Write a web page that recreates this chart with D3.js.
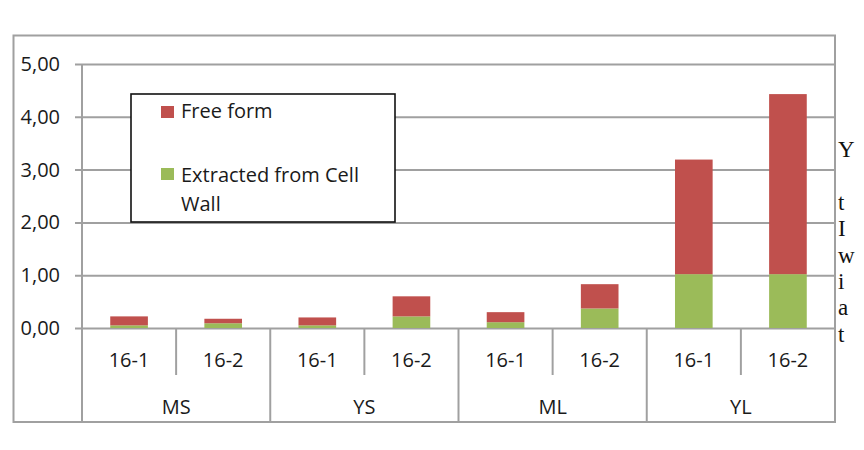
<!DOCTYPE html>
<html>
<head>
<meta charset="utf-8">
<script src="https://cdn.jsdelivr.net/npm/d3@7"></script>
<style>
  html, body { margin: 0; padding: 0; background: #fff; overflow: hidden; }
  svg { display: block; }
  .lbl { font-family: "Open Sans", Lato, sans-serif; fill: #1a1a1a; }
  .side { font-family: "Liberation Serif", "DejaVu Serif", serif; fill: #111; }
</style>
</head>
<body>
<svg id="chart" width="864" height="450"></svg>
<script>
  // data
  const groups = ['MS', 'YS', 'ML', 'YL'];
  const samples = ['16-1', '16-2'];
  const cellWall = [0.05, 0.09, 0.05, 0.22, 0.11, 0.37, 1.02, 1.02];
  const freeForm = [0.17, 0.085, 0.15, 0.38, 0.19, 0.46, 2.17, 3.41];
  const yTicks = [0, 1, 2, 3, 4, 5];
  const seriesNames = ['Free form', 'Extracted from Cell Wall'];
  const seriesColors = ['#c0504d', '#9bbb59'];
  // clipped body text at the right edge of the page
  const sideText = ['Y', 't', 'I', 'w', 'i', 'a', 't'];
  const sideRows = [0, 2, 3, 4, 5, 6, 7];

  const svg = d3.select('#chart');
  const plot = { left: 82, right: 835, top: 64, bottom: 328 };
  const frame = { left: 13.5, top: 35.5, right: 835, bottom: 422 };
  const grey = '#a0a0a0';
  const fs = 20;

  const cats = [];
  groups.forEach(g => samples.forEach(s => cats.push(g + '|' + s)));

  const x = d3.scaleBand().domain(cats).range([plot.left, plot.right])
    .paddingInner(0.6).paddingOuter(0.3);
  const xCell = d3.scaleBand().domain(cats).range([plot.left, plot.right]);
  const xGroup = d3.scaleBand().domain(groups).range([plot.left, plot.right]);
  const y = d3.scaleLinear().domain([0, 5]).range([plot.bottom, plot.top]);

  // outer chart frame
  svg.append('rect')
    .attr('x', frame.left).attr('y', frame.top)
    .attr('width', frame.right - frame.left).attr('height', frame.bottom - frame.top)
    .attr('fill', '#fff').attr('stroke', grey).attr('stroke-width', 2);

  // gridlines + y labels
  const fmt = d => d3.format('.2f')(d).replace('.', ',');
  const yAxis = d3.axisLeft(y).tickValues(yTicks).tickFormat(fmt)
    .tickSize(-(plot.right - plot.left)).tickPadding(14);
  const gy = svg.append('g').attr('transform', `translate(${plot.left},0)`).call(yAxis);
  gy.select('.domain').remove();
  gy.selectAll('line').attr('stroke', grey).attr('stroke-width', 2)
    .attr('x1', -7);
  gy.selectAll('text').attr('class', 'lbl').attr('font-size', fs).attr('x', -22);

  // y axis line down through category table
  svg.append('line')
    .attr('x1', plot.left).attr('x2', plot.left)
    .attr('y1', plot.top).attr('y2', frame.bottom)
    .attr('stroke', grey).attr('stroke-width', 2);

  // stacked bars
  const stack = cats.map((c, i) => ({ c, wall: cellWall[i], free: freeForm[i] }));
  svg.append('g').selectAll('rect.wall').data(stack).join('rect')
    .attr('x', d => x(d.c)).attr('width', x.bandwidth())
    .attr('y', d => y(d.wall)).attr('height', d => y(0) - y(d.wall))
    .attr('fill', seriesColors[1]);
  svg.append('g').selectAll('rect.free').data(stack).join('rect')
    .attr('x', d => x(d.c)).attr('width', x.bandwidth())
    .attr('y', d => y(d.wall + d.free)).attr('height', d => y(d.wall) - y(d.wall + d.free))
    .attr('fill', seriesColors[0]);

  // category table: separators and labels
  const tbl = svg.append('g');
  cats.forEach((c, i) => {
    const sx = xCell(c) + xCell.bandwidth();
    const groupEnd = i % 2 === 1;
    tbl.append('line')
      .attr('x1', sx).attr('x2', sx)
      .attr('y1', plot.bottom).attr('y2', groupEnd ? frame.bottom : 375)
      .attr('stroke', grey).attr('stroke-width', 2);
    tbl.append('text').attr('class', 'lbl')
      .attr('x', xCell(c) + xCell.bandwidth() / 2).attr('y', 360)
      .attr('text-anchor', 'middle').attr('dy', '0.35em').attr('font-size', fs)
      .text(c.split('|')[1]);
  });
  groups.forEach(g => {
    tbl.append('text').attr('class', 'lbl')
      .attr('x', xGroup(g) + xGroup.bandwidth() / 2).attr('y', 407)
      .attr('text-anchor', 'middle').attr('dy', '0.35em').attr('font-size', fs)
      .text(g);
  });

  // legend
  const lg = svg.append('g');
  lg.append('rect').attr('x', 131).attr('y', 94).attr('width', 264).attr('height', 128)
    .attr('fill', '#fff').attr('stroke', '#111').attr('stroke-width', 1.6);
  lg.append('rect').attr('x', 161).attr('y', 106).attr('width', 13).attr('height', 12)
    .attr('fill', seriesColors[0]);
  lg.append('text').attr('class', 'lbl').attr('x', 181).attr('y', 118)
    .attr('font-size', fs).text(seriesNames[0]);
  lg.append('rect').attr('x', 161).attr('y', 168).attr('width', 13).attr('height', 12)
    .attr('fill', seriesColors[1]);
  lg.append('text').attr('class', 'lbl').attr('x', 181).attr('y', 182)
    .attr('font-size', fs).text('Extracted from Cell');
  lg.append('text').attr('class', 'lbl').attr('x', 181).attr('y', 211)
    .attr('font-size', fs).text('Wall');

  // fragments of page text cut at the right edge
  svg.append('g').selectAll('text').data(sideText).join('text')
    .attr('class', 'side')
    .attr('x', 838).attr('y', (d, i) => 157 + sideRows[i] * 26.4)
    .attr('font-size', 23)
    .text(d => d);
</script>
</body>
</html>
